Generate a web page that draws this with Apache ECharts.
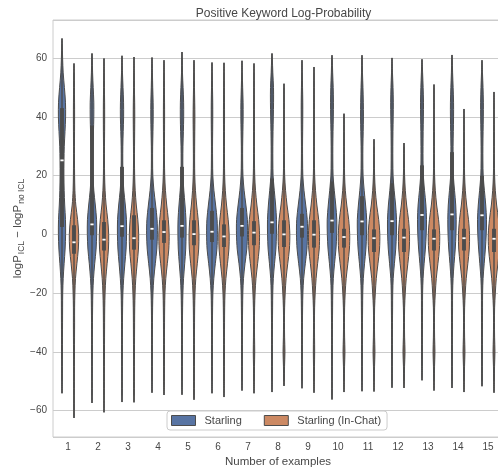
<!DOCTYPE html>
<html><head><meta charset="utf-8">
<script src="https://cdn.jsdelivr.net/npm/echarts@6.0.0/dist/echarts.min.js"></script>
<style>html,body{margin:0;padding:0;background:#fff}#c{width:498px;height:470px}</style>
</head><body><div id="c"></div>
<script>
const categories = ['1','2','3','4','5','6','7','8','9','10','11','12','13','14','15'];
const seriesNames = ['Starling', 'Starling (In-Chat)'];
const yTicks = [-60, -40, -20, 0, 20, 40, 60];

// Starling (blue)
const starlingMin = [-54.1,-57.4,-57.1,-53.9,-54.6,-54.1,-53.2,-53.7,-52.4,-56.2,-53.4,-52.2,-49.7,-52.3,-51.7];
const starlingQ1  = [2.5,-0.3,-0.8,-1.8,-1.1,-2.6,-0.7,0.2,-1.1,0.5,-0.3,-0.3,1.4,1.4,1.4];
const starlingMed = [25.2,3.4,2.8,1.9,2.9,0.9,2.9,4.1,2.6,4.7,4.4,4.5,6.6,6.8,6.5];
const starlingQ3  = [43,37,23,9,23,8,9,19,7,18,13,17.4,23.5,28,20];
const starlingMax = [66.7,61.6,60.8,60.2,62.1,58.5,59.1,61.6,59.3,61.0,61.0,60.1,59.6,61.1,59.3];

// Starling (In-Chat) (orange)
const inChatMin = [-62.5,-60.6,-57.2,-54.7,-56.3,-55.4,-54.1,-51.6,-53.9,-53.7,-53.5,-52.3,-53.2,-53.7,-53.9];
const inChatQ1  = [-6.6,-5.5,-5.2,-2.9,-3.7,-4.3,-3.7,-4.3,-4.5,-4.5,-6.0,-6.0,-5.5,-5.5,-6.0];
const inChatMed = [-2.7,-1.8,-1.3,0.8,0.1,-0.7,0.6,0,-0.1,-0.9,-1.3,-1.1,-1.5,-1.3,-1.5];
const inChatQ3  = [3.1,4.2,6.5,4.8,4.8,3.4,4.5,4.8,4.8,1.9,1.7,1.9,1.7,1.9,1.9];
const inChatMax = [58.2,59.9,60.4,59.3,59.3,58.4,58.2,51.3,57.0,41.1,32.4,31.1,51.0,42.7,48.5];

// relative density, at these levels
const levels = [-60,-55,-50,-45,-40,-35,-30,-25,-20,-15,-10,-5,0,5,10,15,20,25,30,35,40,45,50,55,60,65];
const starlingDensity = [
  [0,.04,.05,.06,.07,.08,.09,.1,.12,.2,.35,.52,.6,.58,.45,.36,.32,.33,.38,.5,.6,.58,.4,.2,.1,.04],
  [0,.04,.05,.06,.07,.07,.08,.1,.14,.25,.45,.68,.78,.76,.55,.3,.16,.14,.17,.24,.3,.3,.2,.1,.04,0],
  [0,.04,.05,.06,.07,.07,.08,.1,.15,.28,.48,.68,.76,.74,.55,.3,.16,.13,.14,.2,.27,.26,.17,.08,.03,0],
  [0,0,.05,.06,.07,.07,.08,.1,.16,.3,.55,.8,.9,.85,.6,.32,.14,.1,.11,.16,.2,.19,.12,.07,.03,0],
  [0,0,.05,.06,.07,.07,.08,.1,.15,.26,.45,.62,.68,.66,.5,.3,.16,.14,.16,.23,.28,.27,.18,.08,.04,.02],
  [0,0,.05,.06,.07,.07,.08,.1,.15,.3,.55,.82,.9,.85,.6,.32,.14,.1,.09,.11,.13,.12,.08,.04,0,0],
  [0,0,.05,.06,.07,.07,.08,.1,.14,.25,.5,.8,.92,.9,.65,.35,.16,.11,.11,.15,.19,.18,.11,.05,0,0],
  [0,0,.05,.06,.07,.07,.08,.1,.13,.22,.42,.65,.74,.75,.6,.38,.18,.14,.14,.17,.22,.26,.25,.14,.05,0],
  [0,0,.05,.06,.07,.07,.08,.1,.15,.28,.55,.82,.92,.88,.62,.33,.14,.1,.09,.11,.13,.13,.09,.05,0,0],
  [0,.04,.05,.06,.07,.07,.08,.1,.13,.22,.42,.66,.78,.8,.62,.38,.18,.14,.14,.17,.22,.24,.2,.11,.04,0],
  [0,0,.05,.06,.07,.07,.08,.1,.13,.22,.42,.65,.76,.78,.6,.36,.18,.14,.15,.2,.24,.22,.16,.08,.03,0],
  [0,0,.05,.06,.07,.07,.08,.1,.12,.2,.4,.62,.73,.75,.6,.36,.18,.14,.14,.16,.2,.22,.17,.08,.03,0],
  [0,0,0,.06,.07,.07,.08,.09,.1,.18,.35,.56,.7,.75,.65,.42,.22,.17,.17,.19,.23,.25,.19,.1,0,0],
  [0,0,.05,.06,.07,.07,.08,.09,.1,.18,.34,.54,.66,.7,.62,.42,.22,.18,.18,.22,.26,.26,.19,.1,.04,0],
  [0,0,.05,.06,.07,.07,.08,.09,.1,.18,.36,.56,.7,.75,.62,.4,.2,.15,.15,.18,.22,.23,.17,.08,0,0]
];
const inChatDensity = [
  [.04,.05,.06,.07,.08,.09,.1,.1,.15,.25,.48,.72,.78,.6,.3,.15,.1,.08,.08,.09,.1,.09,.07,.05,0,0],
  [.03,.05,.06,.07,.08,.09,.1,.12,.18,.3,.52,.74,.78,.62,.35,.18,.1,.08,.08,.1,.11,.1,.07,.05,0,0],
  [0,.05,.06,.07,.08,.09,.1,.12,.18,.3,.52,.74,.78,.64,.38,.2,.11,.08,.09,.11,.13,.11,.07,.05,.03,0],
  [0,0,.06,.07,.08,.08,.09,.11,.16,.3,.55,.8,.86,.72,.45,.24,.12,.08,.08,.09,.1,.09,.07,.05,0,0],
  [0,.05,.06,.07,.08,.08,.09,.11,.17,.3,.55,.78,.83,.7,.44,.24,.13,.1,.11,.13,.15,.12,.08,.05,0,0],
  [0,.05,.06,.07,.08,.08,.09,.11,.17,.32,.58,.82,.86,.7,.42,.22,.11,.08,.08,.08,.09,.08,.06,.04,0,0],
  [0,0,.06,.08,.12,.09,.08,.1,.18,.33,.6,.86,.92,.78,.48,.25,.12,.08,.07,.07,.07,.06,.05,.04,0,0],
  [0,0,.06,.09,.16,.1,.08,.1,.2,.35,.62,.9,.97,.82,.5,.26,.11,.07,.06,.06,.06,.05,.04,0,0,0],
  [0,0,.06,.08,.11,.09,.08,.1,.2,.35,.6,.87,.92,.78,.48,.25,.11,.07,.06,.06,.06,.06,.05,.03,0,0],
  [0,0,.06,.09,.16,.1,.08,.1,.2,.36,.64,.9,.95,.78,.46,.22,.1,.07,.06,.05,.04,0,0,0,0,0],
  [0,0,.06,.09,.16,.1,.08,.1,.22,.38,.66,.92,.97,.78,.45,.22,.1,.06,.05,0,0,0,0,0,0,0],
  [0,0,.06,.09,.17,.1,.08,.1,.21,.37,.64,.88,.92,.75,.44,.22,.1,.06,.05,0,0,0,0,0,0,0],
  [0,0,.06,.09,.16,.1,.08,.1,.22,.38,.65,.9,.95,.76,.44,.22,.1,.07,.06,.06,.05,.04,.03,0,0,0],
  [0,0,.06,.09,.16,.1,.08,.1,.21,.37,.64,.88,.92,.75,.44,.22,.1,.07,.06,.05,.04,0,0,0,0,0],
  [0,0,.06,.09,.16,.1,.08,.1,.22,.38,.65,.9,.95,.76,.44,.22,.1,.07,.06,.06,.05,.04,0,0,0,0]
];

const COLORS = ['#5874a3', '#cc8963'];
const GRAY = '#4c4c4c';
const FONT = 'Liberation Sans, Arial, sans-serif';
const TXT = '#474747';
const DENS = [starlingDensity, inChatDensity];

function violinRenderer(s) {
  return function (params, api) {
    const i = params.dataIndex;
    const lo = api.value(1), q1 = api.value(2), med = api.value(3), q3 = api.value(4), hi = api.value(5);
    const base = api.coord([i, 0]);
    const band = api.size([1, 0])[0];
    const cx = base[0] + (s === 0 ? -0.2 : 0.2) * band;
    const halfMax = 0.2 * band;
    const dens = DENS[s][i];
    const yOf = v => api.coord([i, v])[1];
    const knots = [[lo, 0]];
    levels.forEach((v, k) => { if (v > lo + 0.8 && v < hi - 0.8) knots.push([v, dens[k]]); });
    knots.push([hi, 0]);
    const pts = [];
    knots.forEach(([v, d]) => pts.push([cx + d * halfMax, yOf(v)]));
    for (let k = knots.length - 2; k >= 1; k--) pts.push([cx - knots[k][1] * halfMax, yOf(knots[k][0])]);
    const bw = 0.13 * band;
    return {
      type: 'group',
      children: [
        { type: 'polygon', shape: { points: pts, smooth: 0.3 }, style: { fill: COLORS[s], stroke: GRAY, lineWidth: 1 } },
        { type: 'line', shape: { x1: cx, y1: yOf(lo), x2: cx, y2: yOf(hi) }, style: { stroke: GRAY, lineWidth: 1.4 } },
        { type: 'rect', shape: { x: cx - bw / 2, y: yOf(q3), width: bw, height: yOf(q1) - yOf(q3) }, style: { fill: GRAY } },
        { type: 'rect', shape: { x: cx - 1.6, y: yOf(med) - 0.9, width: 3.2, height: 1.8 }, style: { fill: '#ffffff' } }
      ]
    };
  };
}

const seriesStats = [
  [starlingMin, starlingQ1, starlingMed, starlingQ3, starlingMax],
  [inChatMin, inChatQ1, inChatMed, inChatQ3, inChatMax]
];

const chart = echarts.init(document.getElementById('c'), null, { renderer: 'canvas' });
chart.setOption({
  animation: false,
  backgroundColor: '#ffffff',
  title: {
    text: 'Positive Keyword Log-Probability',
    left: 278.5, top: 3, textAlign: 'center',
    textStyle: { fontFamily: FONT, fontSize: 12, fontWeight: 'normal', color: TXT }
  },
  legend: {
    data: seriesNames,
    left: 167, top: 411,
    orient: 'horizontal',
    icon: 'rect', itemWidth: 24, itemHeight: 10, itemGap: 22,
    padding: [4, 6, 4, 4],
    borderColor: '#cccccc', borderWidth: 1, borderRadius: 3,
    backgroundColor: '#ffffff',
    itemStyle: { borderColor: GRAY, borderWidth: 1 },
    textStyle: { fontFamily: FONT, fontSize: 11, color: TXT, padding: [0, 0, 0, 4] }
  },
  grid: { left: 53, top: 20, width: 450, height: 417, show: true, borderColor: '#cccccc', borderWidth: 1, backgroundColor: '#ffffff', containLabel: false, outerBoundsMode: 'none' },
  xAxis: {
    type: 'category', data: categories,
    name: 'Number of examples', nameLocation: 'middle', nameGap: 19, nameMoveOverlap: false,
    nameTextStyle: { fontFamily: FONT, fontSize: 11.5, color: TXT },
    axisLine: { show: false }, axisTick: { show: false },
    axisLabel: { fontFamily: FONT, fontSize: 10, color: TXT, margin: 5 },
    splitLine: { show: false }
  },
  yAxis: {
    type: 'value', min: -69, max: 73, splitNumber: 7,
    name: '{a|logP}{b|ICL}{a| \u2212 logP}{b|no ICL}', nameLocation: 'middle', nameGap: 27, nameMoveOverlap: false,
    nameTextStyle: { fontFamily: FONT, color: TXT, rich: {
      a: { fontFamily: FONT, fontSize: 11.5, color: TXT },
      b: { fontFamily: FONT, fontSize: 8.5, color: TXT, padding: [7, 0, 0, 1] }
    } },
    axisLine: { show: false }, axisTick: { show: false },
    axisLabel: { fontFamily: FONT, fontSize: 10, color: TXT, margin: 6,
      formatter: v => yTicks.indexOf(Math.round(v)) >= 0 && Math.abs(v - Math.round(v)) < 1e-6 ? (v < 0 ? '\u2212' + Math.abs(Math.round(v)) : String(Math.round(v))) : '' },
    splitLine: { show: true, lineStyle: { color: '#cccccc', width: 1 } }
  },
  series: [0, 1].map(s => ({
    type: 'custom',
    name: seriesNames[s],
    renderItem: violinRenderer(s),
    itemStyle: { color: COLORS[s] },
    encode: { x: 0, y: [1, 2, 3, 4, 5] },
    clip: true,
    data: categories.map((c, i) => [i].concat(seriesStats[s].map(a => a[i])))
  }))
});
</script></body></html>
